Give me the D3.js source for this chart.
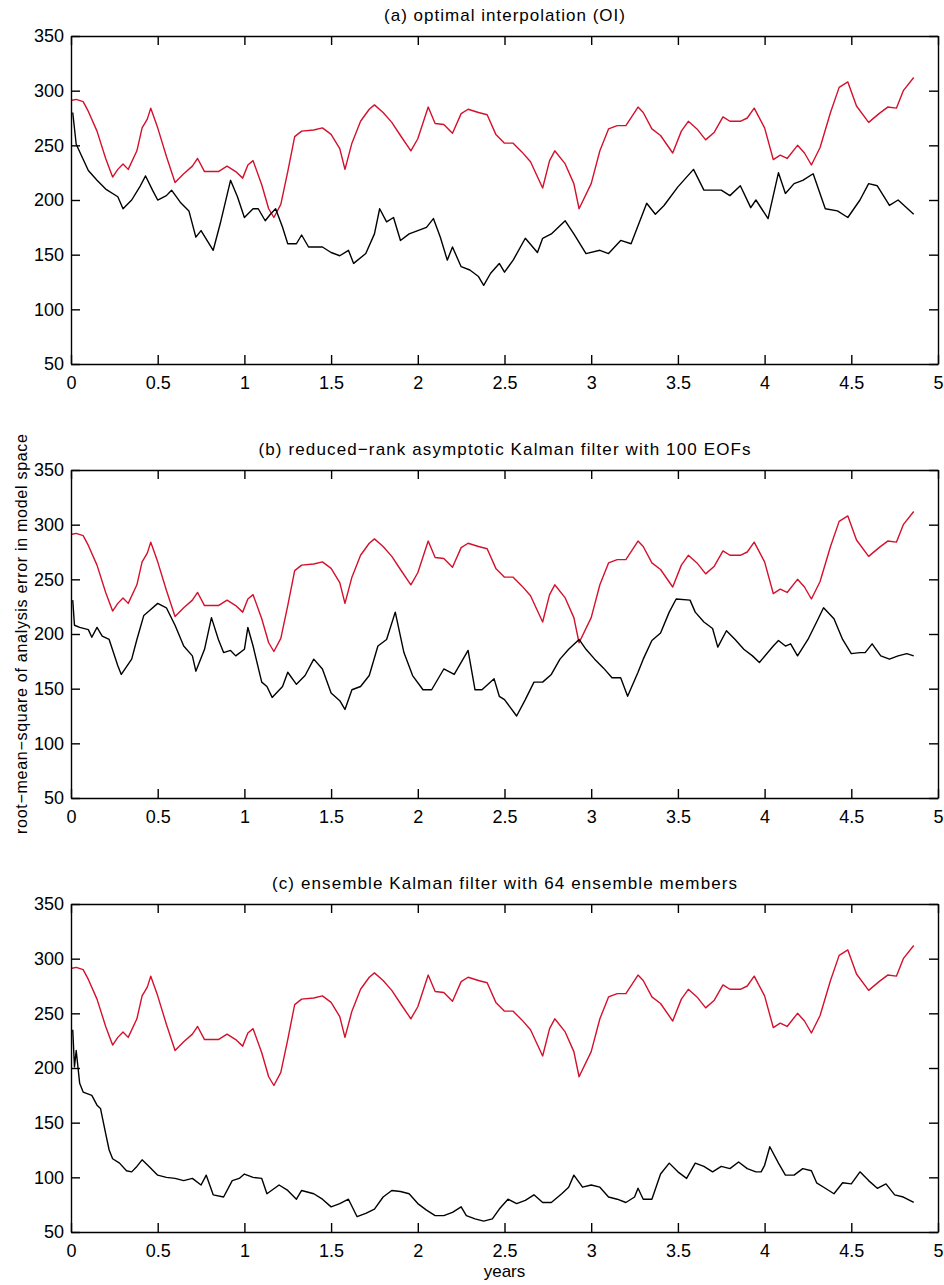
<!DOCTYPE html>
<html>
<head>
  <meta charset="utf-8">
  <title>Analysis error</title>
  <style>
   html, body { margin: 0; padding: 0; background: #fff; }
   text { font-family: "Liberation Sans", Arial, Helvetica, sans-serif; fill: #000; }
   .tick text { font-size: 18px; }
   .tick line, .domain { stroke: #000; stroke-width: 1.4px; }
   .err { fill: none; stroke-width: 1.4px; stroke-linejoin: round; }
  </style>
</head>
<body>
<div id="chart"></div>
<script src="https://d3js.org/d3.v7.min.js"></script>
<script>
// tick values and labels
var xTicks = [0, 0.5, 1, 1.5, 2, 2.5, 3, 3.5, 4, 4.5, 5];
var yTicks = [50, 100, 150, 200, 250, 300, 350];
var titles = [
  "(a) optimal interpolation (OI)",
  "(b) reduced\u2212rank asymptotic Kalman filter with 100 EOFs",
  "(c) ensemble Kalman filter with 64 ensemble members"
];

// red curve: error without assimilation (same in every panel)  [years, rms]
var freeRun = [
  [0,291],[0.03,292],[0.07,290],[0.1,281],[0.15,263],[0.2,238],[0.24,221],[0.27,228],[0.3,233],[0.33,228],
  [0.38,245],[0.41,266],[0.44,274],[0.46,284],[0.5,266],[0.55,240],[0.6,216],[0.65,224],[0.7,231],[0.73,238],
  [0.77,226],[0.85,226],[0.9,231],[0.95,226],[0.99,220],[1.02,232],[1.05,236],[1.1,214],[1.14,192],[1.17,184],
  [1.21,196],[1.25,226],[1.29,258],[1.33,263],[1.4,264],[1.45,266],[1.5,260],[1.55,247],[1.58,228],[1.62,252],
  [1.67,272],[1.72,283],[1.75,287],[1.8,280],[1.85,271],[1.9,259],[1.96,245],[2.0,256],[2.06,285],[2.1,270],
  [2.15,269],[2.2,261],[2.25,279],[2.29,283],[2.35,280],[2.4,278],[2.45,260],[2.5,252],[2.55,252],[2.6,244],
  [2.65,235],[2.72,211],[2.76,236],[2.79,245],[2.85,233],[2.9,215],[2.93,192],[3.0,215],[3.05,245],[3.1,265],
  [3.15,268],[3.2,268],[3.27,285],[3.3,280],[3.35,265],[3.4,259],[3.47,243],[3.52,263],[3.56,272],[3.61,265],
  [3.66,255],[3.71,262],[3.76,276],[3.8,272],[3.86,272],[3.9,275],[3.94,284],[4.0,266],[4.05,237],[4.09,241],
  [4.13,238],[4.19,250],[4.23,243],[4.27,232],[4.32,248],[4.38,280],[4.43,303],[4.48,308],[4.53,286],[4.6,271],
  [4.66,279],[4.71,285],[4.76,284],[4.8,300],[4.86,312]
];

// black curves: analysis error of each scheme
var oiErr = [
  [0.01,280],[0.03,251],[0.1,227],[0.15,218],[0.2,210],[0.27,203],[0.3,192],[0.35,200],[0.4,213],[0.43,222],
  [0.47,209],[0.5,200],[0.55,204],[0.58,209],[0.63,198],[0.68,190],[0.72,166],[0.75,172],[0.82,154],[0.86,178],
  [0.92,218],[0.96,203],[1.0,184],[1.05,192],[1.08,192],[1.12,181],[1.15,187],[1.18,192],[1.22,175],[1.25,160],
  [1.3,160],[1.33,168],[1.37,157],[1.45,157],[1.5,152],[1.55,149],[1.6,154],[1.63,142],[1.7,151],[1.75,169],
  [1.78,192],[1.82,180],[1.86,184],[1.9,163],[1.95,169],[2.0,172],[2.05,175],[2.09,183],[2.13,166],[2.17,145],
  [2.2,157],[2.25,139],[2.3,136],[2.35,130],[2.38,122],[2.42,133],[2.47,142],[2.5,134],[2.55,145],[2.62,165],
  [2.69,152],[2.72,165],[2.77,169],[2.85,181],[2.9,169],[2.97,151],[3.05,154],[3.1,151],[3.17,163],[3.23,160],
  [3.32,197],[3.37,187],[3.42,195],[3.5,212],[3.59,228],[3.65,209],[3.75,209],[3.8,204],[3.86,213],[3.92,193],
  [3.95,200],[4.02,183],[4.08,225],[4.12,206],[4.17,215],[4.22,218],[4.28,224],[4.35,192],[4.42,190],[4.48,184],
  [4.55,200],[4.6,215],[4.65,213],[4.72,195],[4.77,200],[4.86,187]
];

var rrkfErr = [
  [0.01,231],[0.02,208],[0.05,206],[0.1,204],[0.12,197],[0.15,206],[0.18,198],[0.22,195],[0.27,171],[0.29,163],
  [0.35,177],[0.38,195],[0.42,217],[0.45,221],[0.5,228],[0.55,224],[0.6,208],[0.65,189],[0.7,180],[0.72,166],
  [0.77,186],[0.81,215],[0.85,195],[0.88,183],[0.92,185],[0.95,180],[1.0,186],[1.02,206],[1.05,189],[1.1,156],
  [1.13,152],[1.16,142],[1.22,152],[1.25,165],[1.3,154],[1.35,162],[1.4,177],[1.45,168],[1.5,146],[1.55,139],
  [1.58,131],[1.62,149],[1.67,152],[1.72,162],[1.77,189],[1.82,195],[1.87,220],[1.92,183],[1.97,162],[2.03,149],
  [2.08,149],[2.15,168],[2.21,163],[2.29,185],[2.33,149],[2.37,149],[2.44,159],[2.47,143],[2.5,140],[2.57,125],
  [2.62,140],[2.67,156],[2.72,156],[2.77,163],[2.82,177],[2.87,186],[2.93,195],[2.97,186],[3.02,177],[3.07,169],
  [3.12,160],[3.17,160],[3.21,143],[3.27,165],[3.3,177],[3.35,194],[3.4,201],[3.45,220],[3.49,232],[3.57,231],
  [3.6,220],[3.65,211],[3.7,205],[3.73,188],[3.78,203],[3.83,195],[3.88,186],[3.93,180],[3.97,174],[4.05,189],
  [4.08,194],[4.12,189],[4.15,191],[4.19,180],[4.25,195],[4.3,211],[4.34,224],[4.4,214],[4.45,195],[4.5,182],
  [4.55,183],[4.58,183],[4.62,191],[4.67,180],[4.72,177],[4.77,180],[4.82,182],[4.86,180]
];

var enkfErr = [
  [0.01,235],[0.02,201],[0.03,216],[0.05,186],[0.07,178],[0.12,175],[0.15,166],[0.17,163],[0.2,140],[0.22,125],
  [0.24,117],[0.28,113],[0.32,106],[0.35,105],[0.38,110],[0.41,116],[0.45,110],[0.5,102],[0.55,100],[0.6,99],
  [0.65,97],[0.7,99],[0.75,93],[0.78,102],[0.82,84],[0.88,82],[0.93,97],[0.97,99],[1.0,103],[1.05,100],
  [1.1,99],[1.13,85],[1.2,93],[1.25,88],[1.3,80],[1.33,88],[1.4,85],[1.45,80],[1.5,73],[1.55,76],
  [1.6,80],[1.65,64],[1.7,67],[1.75,71],[1.8,82],[1.85,88],[1.9,87],[1.95,85],[2.0,76],[2.05,70],
  [2.1,65],[2.15,65],[2.2,68],[2.25,73],[2.28,65],[2.33,62],[2.38,60],[2.43,62],[2.47,71],[2.52,80],
  [2.57,76],[2.62,79],[2.67,84],[2.72,77],[2.77,77],[2.83,85],[2.87,91],[2.9,102],[2.95,91],[3.0,93],
  [3.05,91],[3.1,82],[3.15,80],[3.2,77],[3.25,82],[3.27,90],[3.3,80],[3.35,80],[3.4,103],[3.45,113],
  [3.5,105],[3.55,99],[3.6,113],[3.65,110],[3.7,105],[3.75,110],[3.8,108],[3.85,114],[3.9,108],[3.95,105],
  [3.98,105],[4.0,111],[4.03,128],[4.08,113],[4.12,102],[4.17,102],[4.22,108],[4.27,106],[4.3,95],[4.35,90],
  [4.4,85],[4.45,95],[4.5,94],[4.55,105],[4.6,97],[4.65,90],[4.7,94],[4.75,84],[4.8,82],[4.86,77]
];

var analysis = [oiErr, rrkfErr, enkfErr];

var width = 944, height = 1285;
var left = 71, plotW = 867, plotH = 328;
var panelTop = [36, 470, 904];
var titleWidth = [241, 492, 465];   // the original type is set rather loose

var svg = d3.select("#chart").append("svg")
  .attr("width", width)
  .attr("height", height);

svg.append("rect").attr("width", width).attr("height", height).attr("fill", "#fff");

var x = d3.scaleLinear().domain([0, 5]).range([0, plotW]);

panelTop.forEach(function(top, i) {
  var y = d3.scaleLinear().domain([50, 350]).range([plotH, 0]);
  var line = d3.line()
    .x(function(d) { return x(d[0]); })
    .y(function(d) { return y(d[1]); });

  var g = svg.append("g").attr("transform", "translate(" + left + "," + top + ")");

  // curves
  g.append("path").datum(freeRun)
    .attr("class", "err")
    .attr("stroke", "#d4102c")
    .attr("d", line);
  g.append("path").datum(analysis[i])
    .attr("class", "err")
    .attr("stroke", "#000")
    .attr("d", line);

  // axes, matlab style with inward ticks on all four sides
  g.append("g")
    .attr("transform", "translate(0," + plotH + ")")
    .call(d3.axisBottom(x).tickValues(xTicks).tickSize(-9).tickSizeOuter(0).tickPadding(12)
      .tickFormat(function(d) { return String(d); }));
  g.append("g")
    .call(d3.axisTop(x).tickValues(xTicks).tickSize(-9).tickSizeOuter(0).tickFormat(""));
  g.append("g")
    .call(d3.axisLeft(y).tickValues(yTicks).tickSize(-9).tickSizeOuter(0).tickPadding(7));
  g.append("g")
    .attr("transform", "translate(" + plotW + ",0)")
    .call(d3.axisRight(y).tickValues(yTicks).tickSize(-9).tickSizeOuter(0).tickFormat(""));

  g.selectAll(".tick text").attr("font-family", null).attr("font-size", null);

  // title
  g.append("text")
    .attr("x", plotW / 2)
    .attr("y", -15)
    .attr("text-anchor", "middle")
    .attr("textLength", titleWidth[i])
    .attr("lengthAdjust", "spacing")
    .style("font-size", "17px")
    .text(titles[i]);
});

// axis labels
svg.append("text")
  .attr("x", left + plotW / 2)
  .attr("y", 1277)
  .attr("text-anchor", "middle")
  .style("font-size", "17px")
  .text("years");

svg.append("text")
  .attr("transform", "translate(27," + (panelTop[1] + plotH / 2) + ") rotate(-90)")
  .attr("text-anchor", "middle")
  .attr("textLength", 400)
  .attr("lengthAdjust", "spacing")
  .style("font-size", "16px")
  .text("root\u2212mean\u2212square of analysis error in model space");
</script>
</body>
</html>
